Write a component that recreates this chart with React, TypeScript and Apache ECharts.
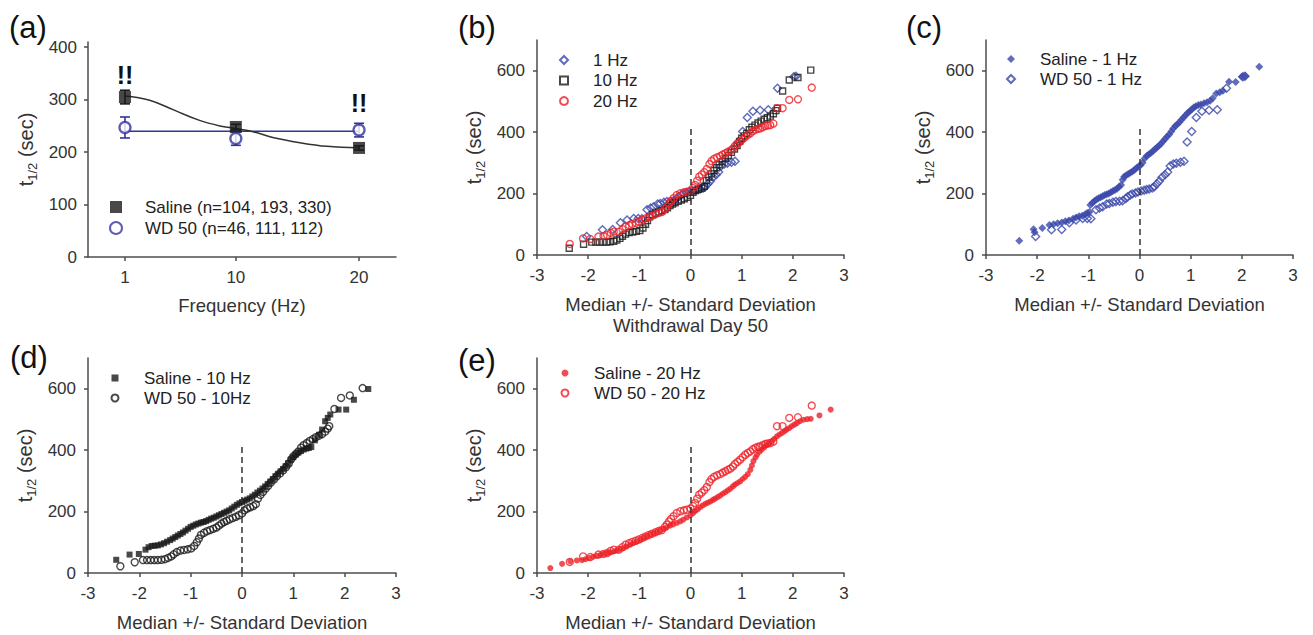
import React, { useEffect, useRef } from "react";
import * as echarts from "echarts";

const FONT = '"Liberation Sans", Arial, Helvetica, sans-serif';
const AXIS = "#4d4d4d";
const TXT = "#333333";
const BLACK = "#1a1a1a";
const BLUE_A = "#33339c";
const BLUE = "#3a47aa";
const RED = "#ee2229";

// ---------- Panel (a) ----------
const freqHz = [1, 10, 20];
const salineMean = [305, 248, 208];
const salineSem = [13, 5, 4];
const wd50Mean = [247, 226, 242];
const wd50Sem = [20, 13, 13];
const salineFitX = [1, 3, 5, 7, 8.7, 10, 11.4, 13, 15.2, 17.4, 20];
const salineFitY = [307, 299, 280, 261, 250, 245, 239, 228, 218, 211, 208];
const wd50FitX = [1, 20];
const wd50FitY = [240, 240];
const sigMarkX = [1, 20];
const sigMarkY = [348, 294];
const freqTicks = [1, 10, 20];
const tTicksA = [0, 100, 200, 300, 400];

// ---------- Panels (b)-(e): [median +/- SD, t1/2 (sec)] ----------
const tTicks = [0, 200, 400, 600];
const medianLine = [0, 420];

const saline1Hz = [
  [-2.35, 46], [-2.07, 84], [-2.05, 74], [-1.9, 88], [-1.76, 98], [-1.68, 100], [-1.6, 103], [-1.52, 106],
  [-1.45, 110], [-1.38, 112], [-1.3, 118], [-1.24, 122], [-1.18, 126], [-1.12, 128], [-1.06, 133], [-1.02, 137],
  [-0.98, 140], [-0.96, 163], [-0.92, 170], [-0.88, 176], [-0.84, 181], [-0.8, 185], [-0.76, 188], [-0.72, 191],
  [-0.68, 195], [-0.64, 198], [-0.6, 200], [-0.56, 204], [-0.52, 208], [-0.48, 212], [-0.44, 216], [-0.4, 222],
  [-0.36, 228], [-0.33, 245], [-0.3, 255], [-0.26, 260], [-0.22, 264], [-0.18, 268], [-0.14, 272], [-0.1, 277],
  [-0.06, 283], [-0.02, 288], [0.02, 292], [0.06, 300], [0.1, 314], [0.14, 322], [0.18, 327], [0.22, 332],
  [0.26, 338], [0.3, 344], [0.34, 350], [0.38, 356], [0.42, 362], [0.46, 370], [0.5, 378], [0.54, 386],
  [0.58, 392], [0.62, 402], [0.66, 412], [0.7, 420], [0.74, 426], [0.78, 432], [0.82, 440], [0.86, 448],
  [0.9, 455], [0.94, 462], [0.98, 468], [1.02, 474], [1.06, 480], [1.1, 484], [1.15, 488], [1.2, 490],
  [1.26, 494], [1.32, 497], [1.38, 502], [1.43, 510], [1.5, 526], [1.57, 530], [1.63, 535], [1.75, 564],
  [1.88, 563], [2.0, 580], [2.07, 583], [2.34, 613],
];

const wd1Hz = [
  [-2.03, 60], [-1.72, 82], [-1.52, 83], [-1.37, 105], [-1.24, 114], [-1.11, 119], [-1.02, 119], [-0.95, 118],
  [-0.85, 147], [-0.78, 153], [-0.72, 157], [-0.64, 166], [-0.59, 168], [-0.52, 172], [-0.46, 174], [-0.39, 175],
  [-0.33, 177], [-0.27, 184], [-0.23, 190], [-0.18, 195], [-0.14, 199], [-0.08, 202], [-0.03, 205], [0.03, 208],
  [0.09, 211], [0.14, 213], [0.19, 215], [0.25, 218], [0.29, 222], [0.34, 232], [0.39, 241], [0.44, 253],
  [0.5, 261], [0.55, 270], [0.6, 290], [0.66, 296], [0.72, 299], [0.8, 302], [0.87, 305], [0.93, 368],
  [1.02, 402], [1.11, 448], [1.22, 468], [1.36, 471], [1.52, 473], [1.7, 543], [2.02, 580], [2.06, 582],
];

const saline10Hz = [
  [-2.45, 43], [-2.19, 60], [-2.01, 62], [-1.88, 76], [-1.82, 84], [-1.76, 88], [-1.7, 89], [-1.64, 90],
  [-1.58, 93], [-1.52, 97], [-1.46, 102], [-1.4, 107], [-1.35, 112], [-1.3, 117], [-1.25, 122], [-1.2, 127],
  [-1.15, 132], [-1.1, 138], [-1.05, 144], [-1.0, 150], [-0.95, 154], [-0.9, 158], [-0.85, 161], [-0.8, 164],
  [-0.75, 166], [-0.7, 169], [-0.65, 173], [-0.6, 177], [-0.55, 180], [-0.5, 184], [-0.45, 188], [-0.4, 192],
  [-0.35, 196], [-0.3, 200], [-0.25, 204], [-0.2, 210], [-0.15, 216], [-0.1, 222], [-0.05, 227], [0.0, 231],
  [0.05, 235], [0.1, 239], [0.15, 243], [0.2, 249], [0.25, 255], [0.3, 262], [0.35, 268], [0.4, 275],
  [0.45, 282], [0.5, 290], [0.55, 298], [0.6, 306], [0.65, 315], [0.7, 323], [0.75, 331], [0.8, 339],
  [0.85, 348], [0.9, 358], [0.95, 369], [1.0, 378], [1.05, 386], [1.1, 392], [1.15, 397], [1.2, 402],
  [1.25, 405], [1.3, 407], [1.35, 410], [1.42, 432], [1.5, 450], [1.56, 467], [1.62, 494], [1.67, 505],
  [1.72, 516], [1.88, 532], [2.03, 532], [2.18, 564], [2.46, 599],
];

const wd10Hz = [
  [-2.37, 22], [-2.09, 35], [-1.93, 42], [-1.85, 42], [-1.78, 42], [-1.71, 42], [-1.64, 42], [-1.57, 43],
  [-1.5, 45], [-1.44, 49], [-1.38, 54], [-1.33, 61], [-1.27, 68], [-1.2, 73], [-1.13, 75], [-1.06, 77],
  [-0.99, 80], [-0.93, 88], [-0.88, 100], [-0.84, 112], [-0.8, 124], [-0.74, 131], [-0.68, 136], [-0.62, 140],
  [-0.56, 144], [-0.5, 148], [-0.45, 154], [-0.4, 161], [-0.35, 166], [-0.3, 170], [-0.24, 175], [-0.18, 179],
  [-0.12, 183], [-0.06, 188], [0.0, 194], [0.05, 204], [0.1, 210], [0.16, 214], [0.22, 218], [0.27, 224],
  [0.31, 242], [0.36, 254], [0.41, 264], [0.46, 275], [0.51, 284], [0.56, 294], [0.62, 304], [0.68, 315],
  [0.74, 324], [0.8, 334], [0.86, 345], [0.91, 356], [0.96, 370], [1.0, 380], [1.05, 388], [1.1, 396],
  [1.15, 408], [1.2, 416], [1.26, 423], [1.32, 430], [1.38, 436], [1.44, 442], [1.5, 447], [1.56, 452],
  [1.62, 460], [1.67, 470], [1.7, 478], [1.8, 534], [1.93, 570], [2.1, 578], [2.35, 602],
];

const saline20Hz = [
  [-2.74, 16], [-2.51, 30], [-2.35, 38], [-2.22, 41], [-2.12, 42], [-2.05, 45], [-1.98, 49], [-1.9, 53],
  [-1.83, 56], [-1.76, 59], [-1.7, 62], [-1.63, 65], [-1.57, 67], [-1.5, 70], [-1.44, 73], [-1.38, 77],
  [-1.31, 81], [-1.25, 86], [-1.18, 92], [-1.12, 97], [-1.05, 103], [-0.98, 108], [-0.92, 114], [-0.86, 119],
  [-0.79, 125], [-0.72, 129], [-0.66, 133], [-0.6, 138], [-0.53, 143], [-0.47, 148], [-0.4, 154], [-0.34, 158],
  [-0.27, 163], [-0.2, 168], [-0.14, 174], [-0.07, 181], [0.0, 188], [0.05, 195], [0.09, 201], [0.14, 207],
  [0.19, 214], [0.24, 220], [0.29, 225], [0.34, 229], [0.39, 233], [0.44, 238], [0.48, 242], [0.53, 247],
  [0.58, 252], [0.63, 258], [0.68, 263], [0.73, 269], [0.78, 275], [0.83, 282], [0.87, 288], [0.92, 293],
  [0.97, 298], [1.02, 306], [1.07, 313], [1.12, 322], [1.17, 336], [1.2, 350], [1.23, 364], [1.27, 376],
  [1.3, 385], [1.35, 395], [1.39, 402], [1.44, 409], [1.49, 416], [1.54, 422], [1.59, 429], [1.64, 437],
  [1.69, 445], [1.74, 451], [1.79, 456], [1.84, 462], [1.88, 467], [1.93, 472], [1.98, 478], [2.03, 483],
  [2.08, 488], [2.14, 494], [2.21, 499], [2.28, 501], [2.35, 502], [2.52, 513], [2.74, 532],
];

const wd20Hz = [
  [-2.36, 36], [-2.1, 54], [-1.96, 52], [-1.8, 60], [-1.7, 62], [-1.63, 65], [-1.56, 72], [-1.5, 76],
  [-1.4, 76], [-1.33, 84], [-1.27, 92], [-1.2, 97], [-1.14, 101], [-1.07, 105], [-1.01, 109], [-0.94, 114],
  [-0.88, 119], [-0.81, 124], [-0.75, 128], [-0.68, 133], [-0.62, 137], [-0.56, 140], [-0.5, 150], [-0.46, 158],
  [-0.42, 168], [-0.38, 176], [-0.33, 185], [-0.27, 195], [-0.2, 201], [-0.13, 204], [-0.07, 206], [0.0, 210],
  [0.05, 218], [0.09, 228], [0.13, 242], [0.17, 255], [0.22, 262], [0.27, 270], [0.32, 280], [0.37, 296],
  [0.41, 306], [0.46, 313], [0.52, 318], [0.58, 322], [0.63, 327], [0.68, 331], [0.73, 336], [0.78, 340],
  [0.83, 347], [0.87, 355], [0.92, 362], [0.97, 369], [1.02, 377], [1.07, 385], [1.12, 391], [1.17, 396],
  [1.22, 403], [1.27, 408], [1.32, 411], [1.36, 412], [1.41, 416], [1.46, 420], [1.51, 422], [1.56, 423],
  [1.62, 428], [1.69, 478], [1.8, 478], [1.93, 505], [2.1, 507], [2.37, 545],
];

const legendA = ["Saline (n=104, 193, 330)", "WD 50 (n=46, 111, 112)"];
const legendB = ["1 Hz", "10 Hz", "20 Hz"];
const legendC = ["Saline - 1 Hz", "WD 50 - 1 Hz"];
const legendD = ["Saline - 10 Hz", "WD 50 - 10Hz"];
const legendE = ["Saline - 20 Hz", "WD 50 - 20 Hz"];
const panelLabels = ["(a)", "(b)", "(c)", "(d)", "(e)"];

const zip = (xs: number[], ys: number[]) => xs.map((x, i) => [x, ys[i]]);

function yName() {
  return {
    name: "{main|t}{sub|1/2}{main| (sec)}",
    nameLocation: "middle" as const,
    nameRotate: 90,
    nameGap: 53,
    nameTextStyle: {
      fontSize: 20,
      fontFamily: FONT,
      color: TXT,
      rich: {
        main: { fontSize: 20, fontFamily: FONT, color: TXT, lineHeight: 20, verticalAlign: "top" },
        sub: { fontSize: 13, fontFamily: FONT, color: TXT, lineHeight: 13, padding: [10, 0, 0, 0], verticalAlign: "top" },
      },
    },
  };
}

const axisLine = { show: true, onZero: false, lineStyle: { color: AXIS, width: 1.5 } };
const axisTick = { show: true, length: 4, lineStyle: { color: AXIS, width: 1.5 } };
const labelStyle = { fontSize: 17, fontFamily: FONT, color: TXT };

function sdXAxis(gridIndex: number, name: string) {
  return {
    type: "value", gridIndex, min: -3, max: 3, interval: 1,
    name, nameLocation: "middle", nameGap: 38.5,
    nameTextStyle: { fontSize: 18.5, fontFamily: FONT, color: TXT, lineHeight: 21 },
    axisLine, axisTick, axisLabel: { ...labelStyle, margin: 12 },
    splitLine: { show: false },
  };
}

function tYAxis(gridIndex: number) {
  return {
    type: "value", gridIndex, min: 0, max: 700, interval: 200,
    ...yName(),
    axisLine,
    axisTick: { ...axisTick, customValues: tTicks },
    axisLabel: { ...labelStyle, margin: 12, customValues: tTicks },
    splitLine: { show: false },
  };
}

function scatter(name: string, data: number[][], idx: number, symbol: string, size: number, color: string, filled: boolean, z: number, withMedian = false) {
  const s: any = {
    type: "scatter", name, xAxisIndex: idx, yAxisIndex: idx, data, symbol, symbolSize: size, z,
    itemStyle: filled ? { color } : { color: "rgba(255,255,255,0)", borderColor: color, borderWidth: 1.4 },
    emphasis: { disabled: true },
  };
  if (withMedian) {
    s.markLine = {
      silent: true, symbol: ["none", "none"], label: { show: false },
      lineStyle: { type: [6, 4], color: "#333", width: 1.5 },
      emphasis: { disabled: true },
      data: [[{ coord: [0, medianLine[0]] }, { coord: [0, medianLine[1]] }]],
    };
  }
  return s;
}

function errorBars(means: number[], sems: number[], color: string) {
  return {
    type: "custom", xAxisIndex: 0, yAxisIndex: 0, z: 3,
    data: freqHz.map((x, i) => [x, means[i] - sems[i], means[i] + sems[i]]),
    encode: { x: 0, y: [1, 2] },
    renderItem: (_p: any, api: any) => {
      const x = api.value(0);
      const lo = api.coord([x, api.value(1)]);
      const hi = api.coord([x, api.value(2)]);
      const w = 5;
      const st = { stroke: color, lineWidth: 1.6 };
      return {
        type: "group",
        children: [
          { type: "line", shape: { x1: lo[0], y1: lo[1], x2: hi[0], y2: hi[1] }, style: st },
          { type: "line", shape: { x1: lo[0] - w, y1: lo[1], x2: lo[0] + w, y2: lo[1] }, style: st },
          { type: "line", shape: { x1: hi[0] - w, y1: hi[1], x2: hi[0] + w, y2: hi[1] }, style: st },
        ],
      };
    },
  };
}

// icon centre (cx), first-row centre (cy); text begins 29px right of icon centre
function legend(names: string[], cx: number, cy: number, size: number, itemGap: number) {
  return {
    show: true, orient: "vertical", left: cx - size / 2, top: cy - 8.5, padding: 0,
    itemWidth: size, itemHeight: size, itemGap,
    data: names, selectedMode: false,
    textStyle: { fontSize: 17, fontFamily: FONT, color: "#222", lineHeight: 17, padding: [0, 0, 0, 24 - size / 2] },
  };
}

function buildOption(): any {
  const panelPos = [[9, 27.5], [458, 27.5], [906, 27.5], [10, 357.5], [458, 360]];
  return {
    animation: false,
    backgroundColor: "#ffffff",
    textStyle: { fontFamily: FONT },
    grid: [
      { left: 88, top: 42, width: 308, height: 215 },
      { left: 537, top: 40, width: 307, height: 215 },
      { left: 986, top: 40, width: 307, height: 215 },
      { left: 88, top: 358, width: 308, height: 215 },
      { left: 537, top: 358, width: 307, height: 215 },
    ],
    xAxis: [
      {
        type: "value", gridIndex: 0, min: -2, max: 23,
        name: "Frequency (Hz)", nameLocation: "middle", nameGap: 37.5,
        nameTextStyle: { fontSize: 18.5, fontFamily: FONT, color: TXT, lineHeight: 21 },
        axisLine, axisTick: { ...axisTick, customValues: freqTicks },
        axisLabel: { ...labelStyle, margin: 12, customValues: freqTicks },
        splitLine: { show: false },
      },
      sdXAxis(1, "Median +/- Standard Deviation\nWithdrawal Day 50"),
      sdXAxis(2, "Median +/- Standard Deviation"),
      sdXAxis(3, "Median +/- Standard Deviation"),
      sdXAxis(4, "Median +/- Standard Deviation"),
    ],
    yAxis: [
      {
        type: "value", gridIndex: 0, min: 0, max: 410,
        ...yName(), nameGap: 52,
        axisLine,
        axisTick: { ...axisTick, customValues: tTicksA },
        axisLabel: { ...labelStyle, margin: 11, customValues: tTicksA },
        splitLine: { show: false },
      },
      tYAxis(1), tYAxis(2), tYAxis(3), tYAxis(4),
    ],
    legend: [
      legend(legendA, 115, 207, 12, 4),
      legend(legendB, 563, 60, 8, 3.5),
      legend(legendC, 1010, 59, 8, 3),
      legend(legendD, 114, 378, 7, 3),
      legend(legendE, 564, 373, 7, 3),
    ],
    graphic: panelLabels.map((t, i) => ({
      type: "text", x: panelPos[i][0], y: panelPos[i][1], silent: true,
      style: { text: t, fontSize: 31, fontFamily: FONT, fill: "#111", verticalAlign: "middle" },
    })),
    series: [
      // (a)
      {
        type: "line", name: "WD 50 fit", xAxisIndex: 0, yAxisIndex: 0, data: zip(wd50FitX, wd50FitY),
        symbol: "none", lineStyle: { color: BLUE_A, width: 1.5 }, z: 1, silent: true,
      },
      {
        type: "line", name: "Saline fit", xAxisIndex: 0, yAxisIndex: 0, data: zip(salineFitX, salineFitY),
        symbol: "none", smooth: 0.4, lineStyle: { color: "#333", width: 1.5 }, z: 1, silent: true,
      },
      errorBars(salineMean, salineSem, BLACK),
      errorBars(wd50Mean, wd50Sem, BLUE_A),
      {
        type: "scatter", name: legendA[0], xAxisIndex: 0, yAxisIndex: 0, data: zip(freqHz, salineMean),
        symbol: "rect", symbolSize: 12, itemStyle: { color: BLACK }, z: 4, emphasis: { disabled: true },
      },
      {
        type: "scatter", name: legendA[1], xAxisIndex: 0, yAxisIndex: 0, data: zip(freqHz, wd50Mean),
        symbol: "circle", symbolSize: 11, itemStyle: { color: "#ffffff", borderColor: BLUE_A, borderWidth: 2.3 },
        z: 5, emphasis: { disabled: true },
      },
      {
        type: "custom", name: "significance", xAxisIndex: 0, yAxisIndex: 0, z: 6, silent: true,
        data: zip(sigMarkX, sigMarkY),
        encode: { x: 0, y: 1 },
        renderItem: (_p: any, api: any) => {
          const p = api.coord([api.value(0), api.value(1)]);
          return {
            type: "text", x: p[0], y: p[1],
            style: {
              text: "!!", fill: "#111111", fontSize: 25, fontWeight: "bold", fontFamily: FONT,
              align: "center", verticalAlign: "middle",
            },
          };
        },
      },
      // (b)
      scatter(legendB[0], wd1Hz, 1, "diamond", 8, BLUE, false, 2, true),
      scatter(legendB[1], wd10Hz, 1, "rect", 6, BLACK, false, 3),
      scatter(legendB[2], wd20Hz, 1, "circle", 7, RED, false, 4),
      // (c)
      scatter(legendC[1], wd1Hz, 2, "diamond", 8, BLUE, false, 2, true),
      scatter(legendC[0], saline1Hz, 2, "diamond", 8, BLUE, true, 3),
      // (d)
      scatter(legendD[1], wd10Hz, 3, "circle", 7, BLACK, false, 2, true),
      scatter(legendD[0], saline10Hz, 3, "rect", 6, BLACK, true, 3),
      // (e)
      scatter(legendE[1], wd20Hz, 4, "circle", 7, RED, false, 2, true),
      scatter(legendE[0], saline20Hz, 4, "circle", 6, RED, true, 3),
    ],
  };
}

export default function App() {
  const ref = useRef<HTMLDivElement>(null);
  useEffect(() => {
    if (!ref.current) return;
    const chart = echarts.init(ref.current, null, { renderer: "svg" });
    chart.setOption(buildOption());
    return () => chart.dispose();
  }, []);
  return (
    <div
      ref={ref}
      style={{ position: "fixed", left: 0, top: 0, width: 1313, height: 635, background: "#ffffff" }}
    />
  );
}
